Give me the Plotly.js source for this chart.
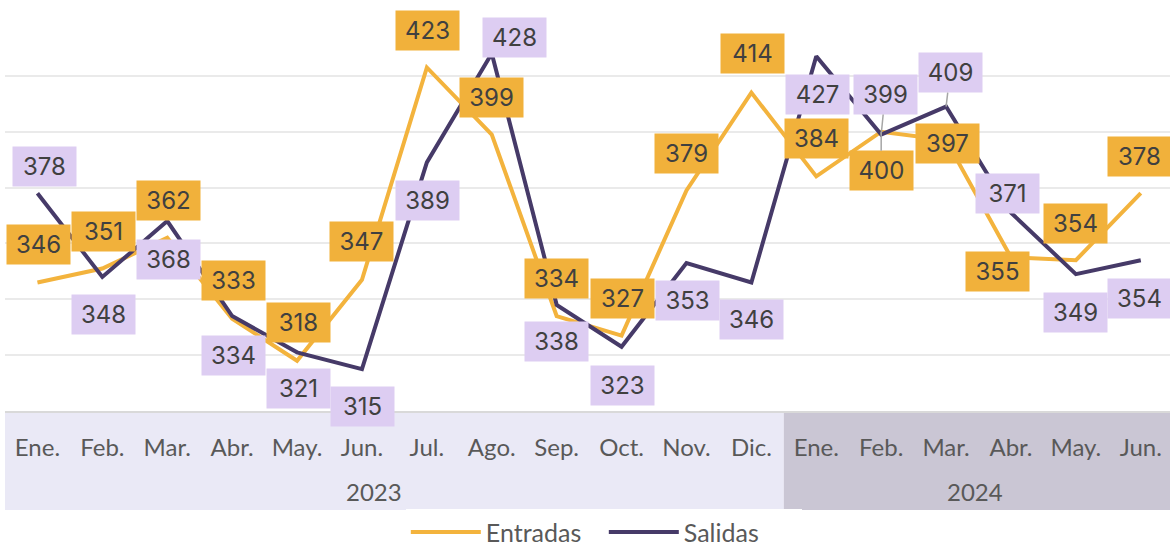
<!DOCTYPE html>
<html>
<head>
<meta charset="utf-8">
<script src="https://cdn.plot.ly/plotly-3.0.1.min.js"></script>
<style>html,body{margin:0;padding:0;background:#fff;}#chart{width:1170px;height:548px;}</style>
</head>
<body>
<div id="chart"></div>
<script>
// ---- data ----
const months = ['Ene.','Feb.','Mar.','Abr.','May.','Jun.','Jul.','Ago.','Sep.','Oct.','Nov.','Dic.',
                'Ene.','Feb.','Mar.','Abr.','May.','Jun.'];
const years = ['2023','2024'];
const entradas = [346,351,362,333,318,347,423,399,334,327,379,414,384,400,397,355,354,378];
const salidas  = [378,348,368,334,321,315,389,428,338,323,353,346,427,399,409,371,349,354];

// ---- label placement (pixel offsets from each point) ----
const entOff = [[1,-38],[1,-37],[1,-37],[1,-38],[1,-38],[0,-38],[1,-37],[0,-37],[0,-38],[1,-37],[0,-37],[1,-39],[0,-38],[0,39],[1,3],[-13,14],[0,-37],[-1,-37]];
const salOff = [[7,-27],[1,38],[1,38],[1,39],[1,36],[1,37],[1,38],[23,-16],[0,37],[1,39],[1,38],[0,37],[1,38],[4,-40],[4,-34],[-3,-19],[0,38],[-1,38]];
const entLeader = [13];
const salLeader = [13,14];

const ORANGE = '#F3B33D', PURPLE = '#463A68';
const ORANGE_BG = '#F1B13B', PURPLE_BG = '#DDCDF2';
const xIdx = months.map((m,i)=>i);

const traces = [
  {x: xIdx, y: entradas, name: 'Entradas', type: 'scatter', mode: 'lines',
   line: {color: ORANGE, width: 4}},
  {x: xIdx, y: salidas, name: 'Salidas', type: 'scatter', mode: 'lines',
   line: {color: PURPLE, width: 4}}
];

const annotations = [];
function addLabels(vals, off, leaders, bg) {
  vals.forEach((v,i)=>{
    const lead = leaders.includes(i);
    annotations.push({
      x: i, y: v, xref: 'x', yref: 'y', text: String(v),
      showarrow: true, arrowhead: 0, arrowwidth: 1.5, standoff: 0,
      arrowcolor: lead ? '#A6A6A6' : 'rgba(0,0,0,0)',
      ax: off[i][0], ay: off[i][1],
      bgcolor: bg, borderpad: 0, width: 63, height: 39,
      font: {family: 'Inter, Open Sans, sans-serif', size: 24, color: '#404040'}
    });
  });
}
addLabels(salidas, salOff, salLeader, PURPLE_BG);
addLabels(entradas, entOff, entLeader, ORANGE_BG);

// year labels
const yearX = [5.18, 14.45];
years.forEach((y,k)=>{
  annotations.push({x: yearX[k], y: -0.205, xref: 'x', yref: 'paper', text: y,
    showarrow: false, yanchor: 'middle', xanchor: 'center',
    font: {family: 'Lato, Open Sans, sans-serif', size: 24, color: '#595959'}});
});

const xSpan = [-0.5, 17.45];
const split = (11.5 - xSpan[0]) / (xSpan[1] - xSpan[0]);

const layout = {
  width: 1170, height: 548,
  margin: {l: 5, r: 0, t: 20, b: 137, autoexpand: false},
  paper_bgcolor: '#fff', plot_bgcolor: '#fff',
  showlegend: true,
  legend: {orientation: 'h', x: 0.514, xanchor: 'center', y: -0.31, yanchor: 'middle',
           font: {family: 'Lato, Open Sans, sans-serif', size: 25, color: '#595959'},
           itemwidth: 70, entrywidth: 113, entrywidthmode: 'pixels', tracegroupgap: 0},
  xaxis: {range: xSpan, tickmode: 'array', tickvals: xIdx, ticktext: months,
          showgrid: false, zeroline: false, showline: true, linecolor: '#D9D9D9', linewidth: 2,
          ticks: '', ticklabelstandoff: 14,
          tickfont: {family: 'Lato, Open Sans, sans-serif', size: 24, color: '#595959'}},
  yaxis: {range: [300, 440], dtick: 20, showticklabels: false, showgrid: true,
          gridcolor: '#EAEAEA', gridwidth: 2, zeroline: false, showline: false, ticks: ''},
  shapes: [
    {type: 'rect', xref: 'paper', yref: 'paper', x0: 0, x1: split, y0: -0.253, y1: 0,
     fillcolor: '#EAE9F6', line: {width: 0}, layer: 'below'},
    {type: 'rect', xref: 'paper', yref: 'paper', x0: split, x1: 1, y0: -0.253, y1: 0,
     fillcolor: '#CAC6D4', line: {width: 0}, layer: 'below'}
  ],
  annotations: annotations
};

Plotly.newPlot('chart', traces, layout, {staticPlot: true, displayModeBar: false});
</script>
</body>
</html>
